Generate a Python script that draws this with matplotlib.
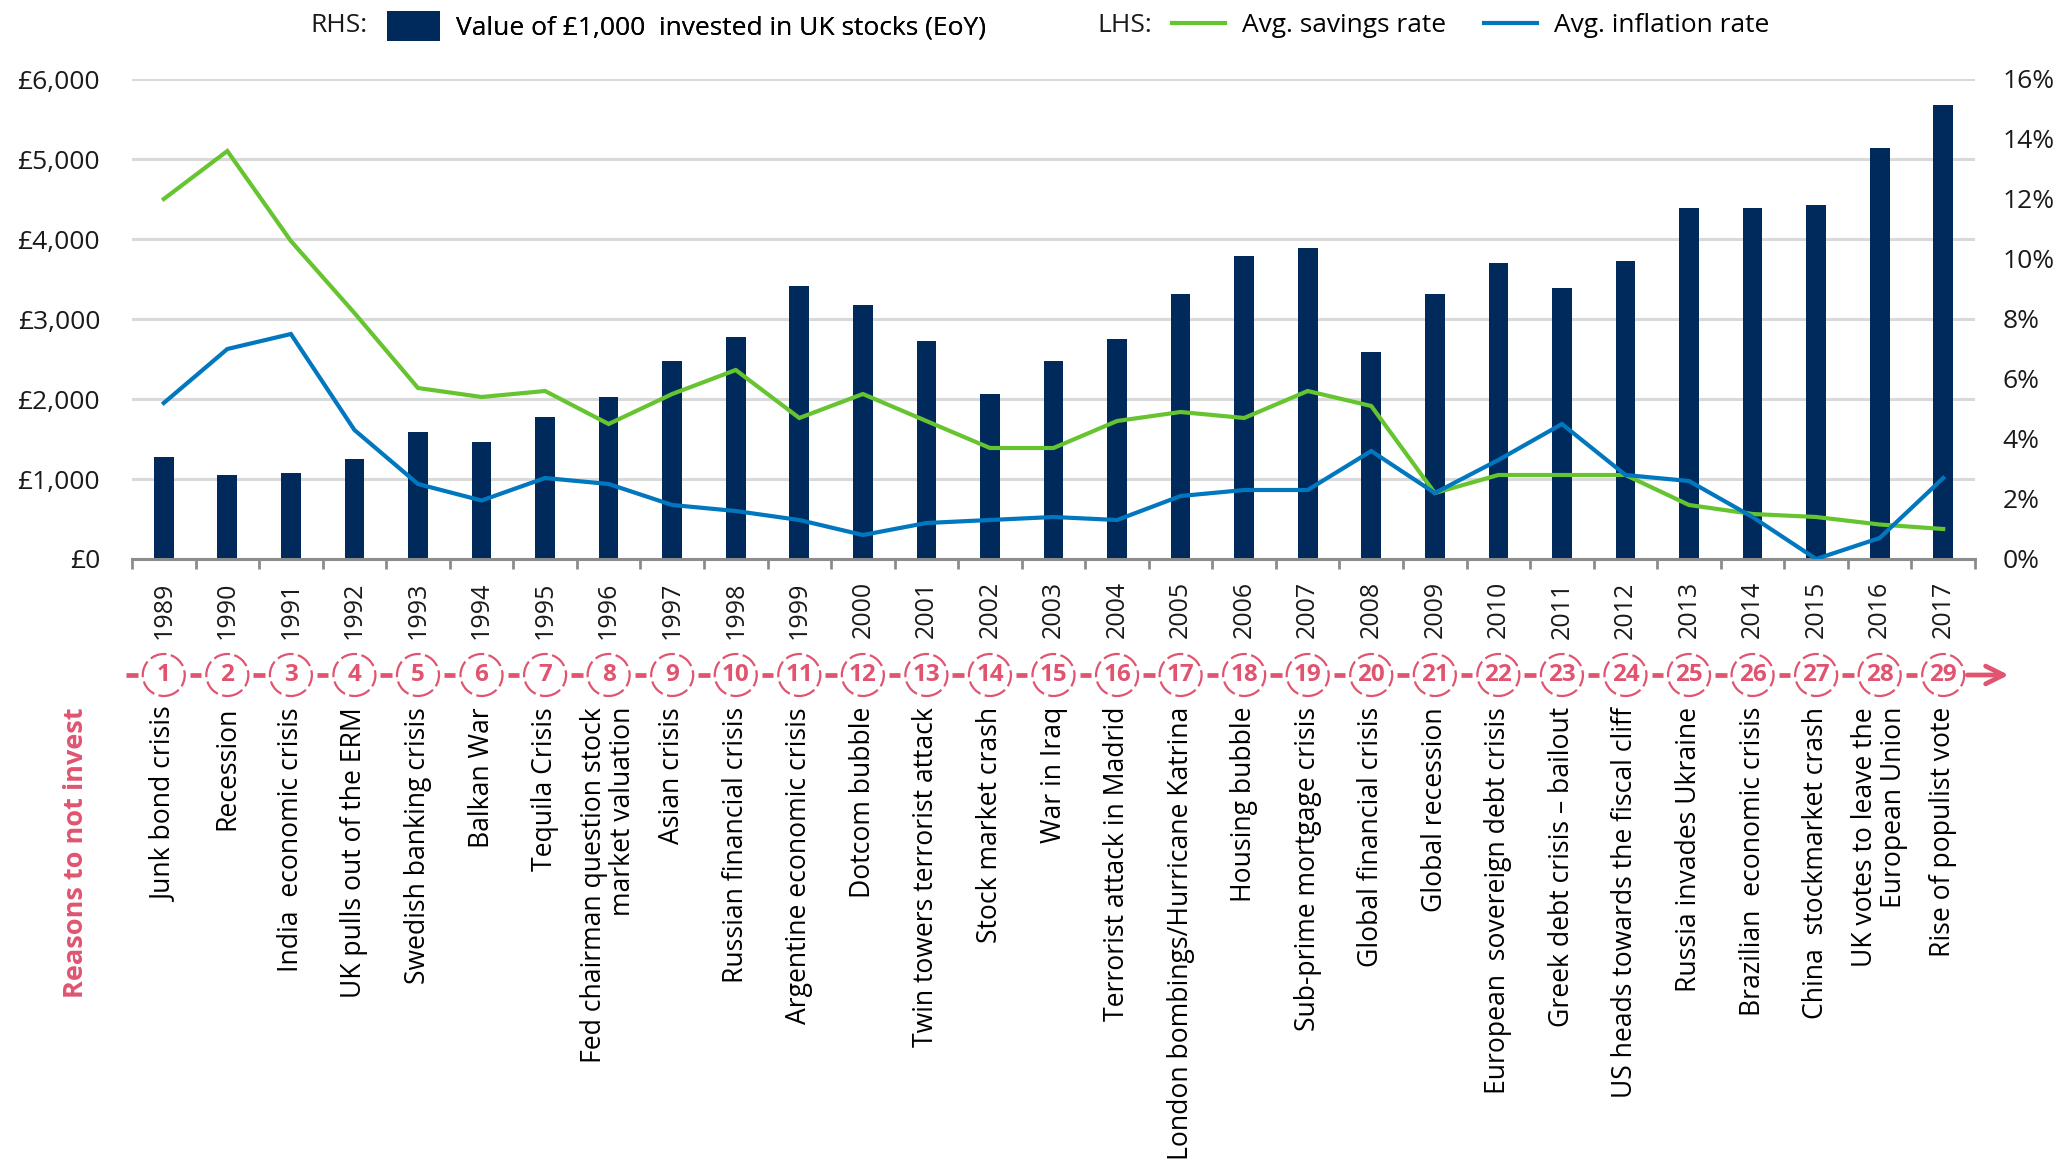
import matplotlib
matplotlib.use("Agg")
import matplotlib.pyplot as plt
from matplotlib.patches import Ellipse, Patch
from matplotlib.lines import Line2D
from matplotlib.transforms import blended_transform_factory
from matplotlib.ticker import FuncFormatter, FixedLocator
import numpy as np

plt.rcParams['font.family'] = ['Open Sans', 'DejaVu Sans']

years = [str(y) for y in range(1989, 2018)]
stock_value = [1275, 1055, 1075, 1255, 1590, 1457, 1775, 2020, 2476, 2772,
               3407, 3173, 2722, 2058, 2472, 2756, 3307, 3791, 3891, 2589,
               3307, 3695, 3390, 3724, 4392, 4392, 4422, 5140, 5678]
savings_rate = [12.0, 13.6, 10.6, 8.2, 5.7, 5.4, 5.6, 4.5, 5.5, 6.3,
                4.7, 5.5, 4.6, 3.7, 3.7, 4.6, 4.9, 4.7, 5.6, 5.1,
                2.2, 2.8, 2.8, 2.8, 1.8, 1.5, 1.4, 1.15, 1.0]
inflation_rate = [5.2, 7.0, 7.5, 4.3, 2.5, 1.95, 2.7, 2.5, 1.8, 1.6,
                  1.3, 0.8, 1.2, 1.3, 1.4, 1.3, 2.1, 2.3, 2.3, 3.6,
                  2.2, 3.3, 4.5, 2.8, 2.6, 1.4, 0.0, 0.7, 2.7]
reasons = ["Junk bond crisis", "Recession", "India  economic crisis",
           "UK pulls out of the ERM", "Swedish banking crisis", "Balkan War",
           "Tequila Crisis", "Fed chairman question stock\nmarket valuation",
           "Asian crisis", "Russian financial crisis", "Argentine economic crisis",
           "Dotcom bubble", "Twin towers terrorist attack", "Stock market crash",
           "War in Iraq", "Terrorist attack in Madrid",
           "London bombings/Hurricane Katrina", "Housing bubble",
           "Sub-prime mortgage crisis", "Global financial crisis",
           "Global recession", "European  sovereign debt crisis",
           "Greek debt crisis \u2013 bailout", "US heads towards the fiscal cliff",
           "Russia invades Ukraine", "Brazilian  economic crisis",
           "China  stockmarket crash", "UK votes to leave the\nEuropean Union",
           "Rise of populist vote"]

NAVY = '#002A5C'
GREEN = '#66C430'
BLUE = '#0077BE'
PINK = '#E05470'
GRID = '#D9D9D9'
AXIS = '#8C8C8C'

W, H = 2058, 1166
fig = plt.figure(figsize=(W / 100, H / 100), dpi=100)
left, right, bottom, top = 132 / W, 1975 / W, 1 - 559 / H, 1 - 79 / H
ax = fig.add_axes([left, bottom, right - left, top - bottom])
ax2 = ax.twinx()

x = np.arange(len(years))
ax.bar(x, stock_value, width=0.31, color=NAVY, zorder=2)
ax.set_xlim(-0.5, len(years) - 0.5)
ax.set_ylim(0, 6000)
ax.set_yticks(np.arange(0, 6001, 1000))
ax.yaxis.set_major_formatter(FuncFormatter(lambda v, p: f"\u00a3{int(v):,}"))
ax.grid(axis='y', color=GRID, linewidth=2.2, zorder=0)
ax.set_axisbelow(True)
for s in ['left', 'right', 'top']:
    ax.spines[s].set_visible(False)
ax.spines['bottom'].set_color(AXIS)
ax.spines['bottom'].set_linewidth(2.2)
ax.tick_params(axis='y', length=0, pad=23, labelsize=19, labelcolor='#1a1a1a')
ax.set_xticks(x)
ax.set_xticklabels(years, rotation=90, fontsize=18, color='#1a1a1a')
ax.tick_params(axis='x', which='major', length=0, pad=16)
ax.xaxis.set_minor_locator(FixedLocator(np.arange(-0.5, len(years), 1.0)))
ax.tick_params(axis='x', which='minor', length=7, width=2, color=AXIS)

ax2.plot(x, savings_rate, color=GREEN, linewidth=3.0, solid_joinstyle='miter', zorder=3)
ax2.plot(x, inflation_rate, color=BLUE, linewidth=3.0, solid_joinstyle='miter', zorder=3)
ax2.set_ylim(0, 16)
ax2.set_yticks(np.arange(0, 17, 2))
ax2.yaxis.set_major_formatter(FuncFormatter(lambda v, p: f"{int(v)}%"))
ax2.tick_params(axis='y', length=0, pad=20, labelsize=19, labelcolor='#1a1a1a')
for s in ['left', 'right', 'top', 'bottom']:
    ax2.spines[s].set_visible(False)

# timeline of reasons
trans = blended_transform_factory(ax.transData, ax.transAxes)
yc = (559 - 675) / 480
cw = 42 / ((1975 - 132) / len(years))
ch = 42 / 480
for i in x:
    ax.add_patch(Ellipse((i, yc), width=cw, height=ch, transform=trans,
                         facecolor='white', edgecolor=PINK, linewidth=1.6,
                         linestyle=(0, (7.5, 2)), clip_on=False, zorder=5))
    ax.text(i, yc, str(i + 1), transform=trans, ha='center', va='center',
            fontsize=17.5, fontweight='bold', color=PINK, clip_on=False, zorder=6)
    ax.text(i, (559 - 707) / 480, reasons[i], transform=trans, rotation=90,
            ha='center', va='top', multialignment='right', fontsize=19.1,
            color='black', clip_on=False, linespacing=1.05)
for g in np.arange(-0.5, len(years) - 1, 1.0):
    ax.plot([g - 0.09, g + 0.09], [yc, yc], transform=trans, color=PINK,
            linewidth=3.4, solid_capstyle='butt', clip_on=False)
ax.annotate('', xy=(len(years) - 1 + 1.03, yc), xytext=(len(years) - 1 + 0.38, yc),
            xycoords=trans, textcoords=trans,
            arrowprops=dict(arrowstyle='->', color=PINK, lw=3.4, mutation_scale=32,
                            shrinkA=0, shrinkB=0), annotation_clip=False)

fig.text(76 / W, 1 - 707 / H, "Reasons to not invest", rotation=90, ha='center',
         va='top', fontsize=19.5, fontweight='bold', color=PINK)

# legend
ly = 1 - 26 / H
fig.text(310 / W, ly, "RHS:", ha='left', va='center', fontsize=19, color='#1a1a1a')
fig.text(1097 / W, ly, "LHS:", ha='left', va='center', fontsize=19, color='#1a1a1a')
leg1 = fig.legend([Patch(facecolor=NAVY)], ["Value of \u00a31,000  invested in UK stocks (EoY)"],
                  loc='center left', bbox_to_anchor=(387 / W, ly), frameon=False,
                  borderpad=0, borderaxespad=0, handlelength=2.0, handleheight=1.35,
                  handletextpad=0.6, fontsize=19)
leg2 = fig.legend([Line2D([], [], color=GREEN, lw=3.0), Line2D([], [], color=BLUE, lw=3.0)],
                  ["Avg. savings rate", "Avg. inflation rate"], ncol=2,
                  loc='center left', bbox_to_anchor=(1172 / W, ly), frameon=False,
                  borderpad=0, borderaxespad=0, handlelength=2.0, handletextpad=0.65,
                  columnspacing=1.45, fontsize=19)
fig.add_artist(leg1)

fig.savefig("out.png", dpi=100)
